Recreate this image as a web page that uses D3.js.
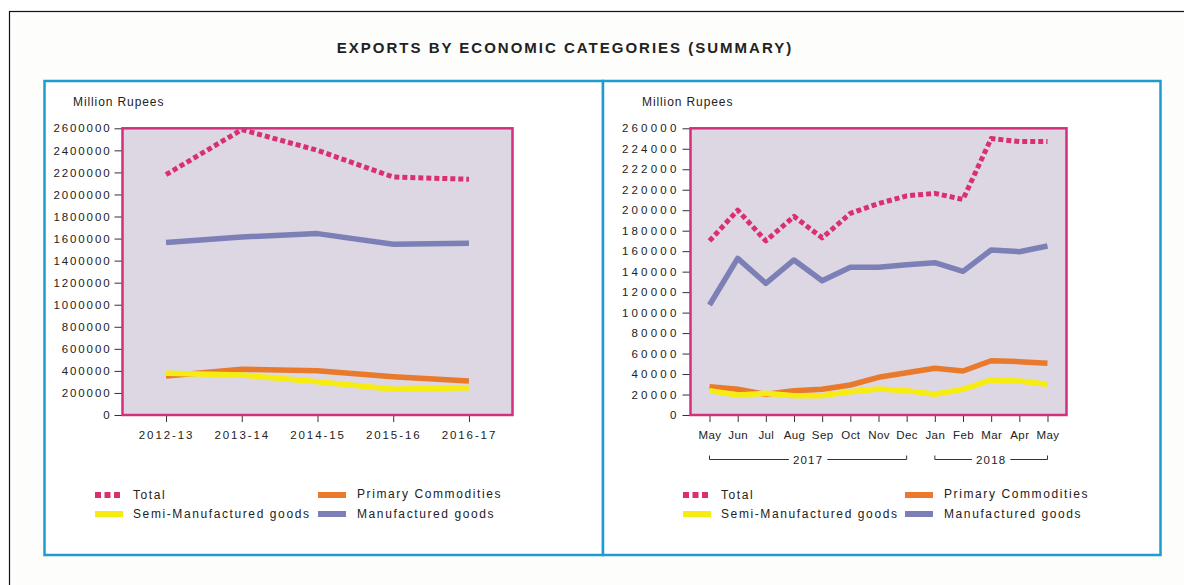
<!DOCTYPE html>
<html>
<head>
<meta charset="utf-8">
<script src="https://cdn.jsdelivr.net/npm/d3@7"></script>
<style>
  body { margin: 0; background: #fff; }
  text { font-family: "Liberation Sans", Arial, sans-serif; fill: #222; }
</style>
</head>
<body>
<script>
// annual data (left panel)
var years = ['2012-13', '2013-14', '2014-15', '2015-16', '2016-17'];
var yearTotal = [2180000, 2588000, 2400000, 2158000, 2138000];
var yearPrimary = [353000, 414000, 401000, 347000, 308000];
var yearSemi = [378000, 362000, 302000, 233000, 247000];
var yearManuf = [1564000, 1615000, 1645000, 1549000, 1558000];
var leftTicks = [0, 200000, 400000, 600000, 800000, 1000000, 1200000, 1400000,
	1600000, 1800000, 2000000, 2200000, 2400000, 2600000];

// monthly data (right panel)
var months = ['May', 'Jun', 'Jul', 'Aug', 'Sep', 'Oct', 'Nov', 'Dec', 'Jan', 'Feb', 'Mar', 'Apr', 'May'];
var monthTotal = [170000, 200000, 170000, 194000, 173000, 197000, 206500, 214000, 216500, 210500, 270000, 267000, 267000];
var monthPrimary = [27700, 25100, 20200, 23800, 25100, 29300, 36800, 41300, 45600, 43000, 53000, 52100, 50500];
var monthSemi = [23800, 19500, 21200, 18900, 18900, 22800, 25400, 23800, 20200, 25100, 34200, 33200, 30000];
var monthManuf = [107400, 153000, 128600, 151400, 131200, 144200, 144200, 146800, 148800, 140300, 161100, 159500, 165000];
var rightTicks = [0, 20000, 40000, 60000, 80000, 100000, 120000, 140000, 160000,
	180000, 200000, 220000, 240000, 260000, 280000];
var rightTickLabels = ['0', '20000', '40000', '60000', '80000', '100000', '120000', '140000',
	'160000', '180000', '200000', '220000', '222000', '224000', '260000'];
var yearGroups = [{label: '2017', from: 0, to: 7}, {label: '2018', from: 8, to: 12}];

var seriesNames = ['Total', 'Primary Commodities', 'Semi-Manufactured goods', 'Manufactured goods'];
var colors = {
	'Total': '#d9306f',
	'Primary Commodities': '#e97a2c',
	'Semi-Manufactured goods': '#f7ec12',
	'Manufactured goods': '#7c80b6'
};

var svg = d3.select('body').append('svg')
	.attr('width', 1184)
	.attr('height', 585);

// outer frame runs off the page
svg.append('rect')
	.attr('x', 9.5).attr('y', 11.5)
	.attr('width', 1300).attr('height', 700)
	.attr('fill', '#fdfdfb').attr('stroke', '#111').attr('stroke-width', 1.2);

svg.append('text')
	.attr('x', 565).attr('y', 53)
	.attr('text-anchor', 'middle')
	.style('font-size', '15px').style('font-weight', 'bold')
	.style('letter-spacing', '2px')
	.text('EXPORTS BY ECONOMIC CATEGORIES (SUMMARY)');

// blue panels
[[44.5, 603], [603, 1160.5]].forEach(function(p) {
	svg.append('rect')
		.attr('x', p[0]).attr('y', 81)
		.attr('width', p[1] - p[0]).attr('height', 474)
		.attr('fill', '#fff').attr('stroke', '#1d9ccf').attr('stroke-width', 2.5);
});

function drawPanel(opt) {
	var g = svg.append('g');
	var x = d3.scalePoint().domain(d3.range(opt.cats.length))
		.range([opt.x0, opt.x1]).padding(opt.pad);
	var y = d3.scaleLinear().domain([0, opt.ymax]).range([opt.y1, opt.y0]);

	g.append('rect')
		.attr('x', opt.x0).attr('y', opt.y0)
		.attr('width', opt.x1 - opt.x0).attr('height', opt.y1 - opt.y0)
		.attr('fill', '#dcd7e2');

	var yAxis = g.append('g')
		.attr('transform', 'translate(' + opt.x0 + ',0)')
		.call(d3.axisLeft(y).tickValues(opt.ticks).tickSize(8).tickPadding(3)
			.tickFormat(opt.tickFormat));
	yAxis.select('.domain').remove();
	yAxis.selectAll('line').attr('stroke', '#333');
	yAxis.selectAll('text').style('font-size', '11.5px')
		.style('letter-spacing', opt.yls).attr('fill', '#222');

	var xAxis = g.append('g')
		.attr('transform', 'translate(0,' + opt.y1 + ')')
		.call(d3.axisBottom(x).tickSize(7).tickPadding(9)
			.tickFormat(function(i) { return opt.cats[i]; }));
	xAxis.select('.domain').remove();
	xAxis.selectAll('line').attr('stroke', '#333');
	xAxis.selectAll('text').style('font-size', '11.5px')
		.style('letter-spacing', opt.xls).attr('fill', '#222');

	var line = d3.line()
		.x(function(d, i) { return x(i); })
		.y(function(d) { return y(d); });

	var order = [['Manufactured goods', opt.manuf], ['Primary Commodities', opt.primary],
		['Semi-Manufactured goods', opt.semi], ['Total', opt.total]];
	order.forEach(function(s) {
		g.append('path')
			.datum(s[1])
			.attr('d', line)
			.attr('fill', 'none')
			.attr('stroke', colors[s[0]])
			.attr('stroke-width', s[0] == 'Total' ? 5 : 5.5)
			.attr('stroke-dasharray', s[0] == 'Total' ? '5,3' : null)
			.attr('stroke-linejoin', 'round');
	});

	g.append('rect')
		.attr('x', opt.x0).attr('y', opt.y0)
		.attr('width', opt.x1 - opt.x0).attr('height', opt.y1 - opt.y0)
		.attr('fill', 'none').attr('stroke', '#d42f7c').attr('stroke-width', 2.5);

	g.append('text')
		.attr('x', opt.labelX).attr('y', 106)
		.style('font-size', '12px').style('letter-spacing', '0.9px')
		.text('Million Rupees');

	// legend
	var lx = opt.legendX;
	seriesNames.forEach(function(name, i) {
		var col = i % 2, row = Math.floor(i / 2);
		var sx = lx[col], sy = 495 + row * 19;
		g.append('line')
			.attr('x1', sx).attr('x2', sx + 28)
			.attr('y1', sy).attr('y2', sy)
			.attr('stroke', colors[name]).attr('stroke-width', 6)
			.attr('stroke-dasharray', name == 'Total' ? '6,3.5' : null);
		g.append('text')
			.attr('x', sx + (col == 0 ? 38 : 39)).attr('y', sy + 4 - (i == 1 ? 1 : 0))
			.style('font-size', '12px').style('letter-spacing', '1.6px')
			.text(name);
	});

	return {x: x, g: g};
}

drawPanel({
	cats: years, total: yearTotal, primary: yearPrimary, semi: yearSemi, manuf: yearManuf,
	x0: 122.5, x1: 512.5, y0: 128.3, y1: 415, pad: 0.575,
	ymax: 2600000, ticks: leftTicks, tickFormat: d3.format('d'),
	yls: '1.9px', xls: '1.9px', labelX: 73, legendX: [95, 318]
});

var right = drawPanel({
	cats: months, total: monthTotal, primary: monthPrimary, semi: monthSemi, manuf: monthManuf,
	x0: 690.5, x1: 1066.5, y0: 128.3, y1: 415, pad: 0.675,
	ymax: 280000, ticks: rightTicks,
	tickFormat: function(d, i) { return rightTickLabels[i]; },
	yls: '3.2px', xls: '0.4px', labelX: 642, legendX: [683, 905]
});

// year brackets under month labels
yearGroups.forEach(function(gr) {
	var a = right.x(gr.from), b = right.x(gr.to), yy = 459.5;
	var t = right.g.append('text')
		.attr('x', (a + b) / 2).attr('y', yy + 4)
		.attr('text-anchor', 'middle')
		.style('font-size', '11.5px').style('letter-spacing', '1.2px')
		.text(gr.label);
	var bb = t.node().getBBox();
	[[a, bb.x - 4], [bb.x + bb.width + 4, b]].forEach(function(seg) {
		right.g.append('line')
			.attr('x1', seg[0]).attr('x2', seg[1])
			.attr('y1', yy).attr('y2', yy)
			.attr('stroke', '#333').attr('stroke-width', 1);
	});
	[a, b].forEach(function(px) {
		right.g.append('line')
			.attr('x1', px).attr('x2', px)
			.attr('y1', yy - 4).attr('y2', yy)
			.attr('stroke', '#333').attr('stroke-width', 1);
	});
});
</script>
</body>
</html>
